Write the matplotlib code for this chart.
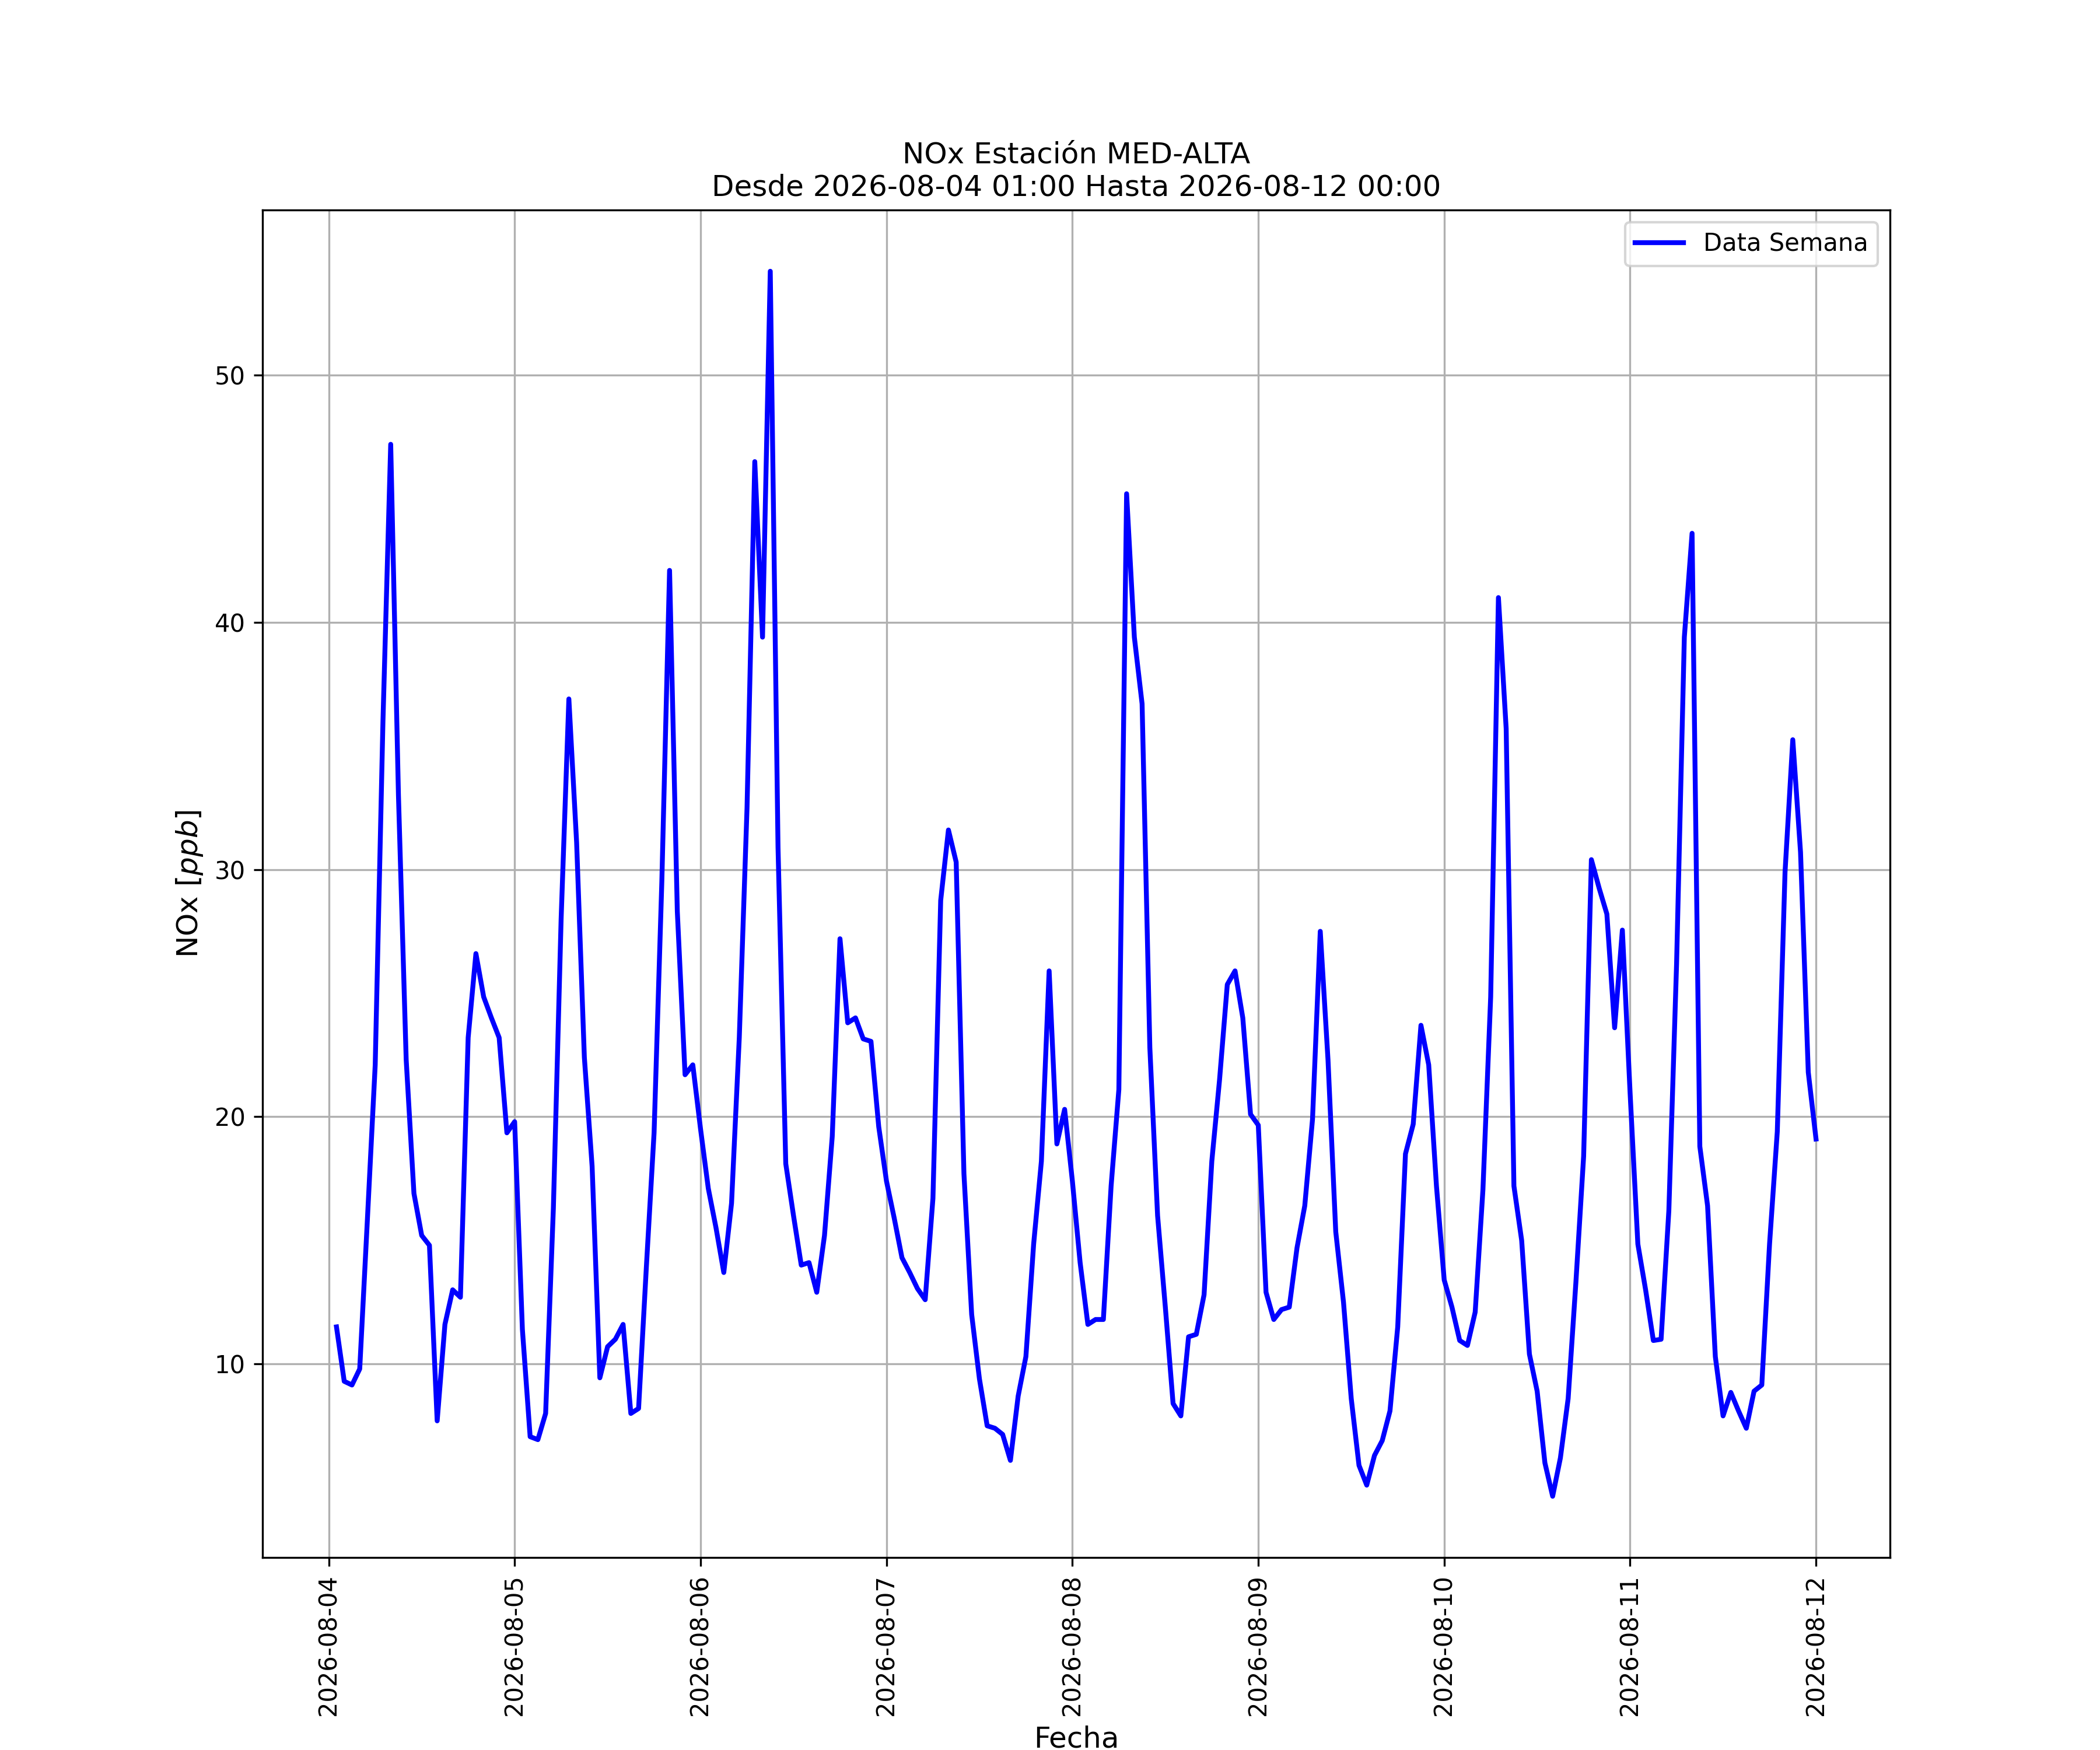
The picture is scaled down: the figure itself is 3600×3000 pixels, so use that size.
import matplotlib
matplotlib.use("Agg")
import matplotlib.pyplot as plt
import matplotlib.dates as mdates
import pandas as pd
import numpy as np

title = "NOx Estación MED-ALTA\nDesde 2026-08-04 01:00 Hasta 2026-08-12 00:00"
series_label = "Data Semana"
x_label = "Fecha"
y_label = "NOx [$ppb$]"

start_time = "2026-08-04 01:00"
n_hours = 192

day1 = [11.5, 9.3, 9.15, 9.8, 15.9, 22.1, 36.0, 47.2, 33.0, 22.3, 16.9, 15.2,
        14.8, 7.7, 11.6, 13.0, 12.7, 23.2, 26.6, 24.85, 24.0, 23.2, 19.35, 19.8]
day2 = [11.4, 7.06, 6.94, 8.0, 16.3, 28.0, 36.9, 31.1, 22.4, 18.0, 9.44, 10.7,
        11.0, 11.6, 8.0, 8.2, 13.9, 19.35, 29.5, 42.1, 28.3, 21.7, 22.1, 19.5]
day3 = [17.1, 15.5, 13.7, 16.5, 23.2, 32.5, 46.5, 39.4, 54.2, 30.9, 18.1, 16.0,
        14.0, 14.1, 12.9, 15.2, 19.2, 27.2, 23.8, 24.0, 23.15, 23.05, 19.6, 17.4]
day4 = [15.9, 14.3, 13.7, 13.05, 12.6, 16.7, 28.75, 31.6, 30.3, 17.7, 12.0, 9.4,
        7.5, 7.4, 7.15, 6.1, 8.7, 10.3, 14.85, 18.2, 25.9, 18.9, 20.3, 17.4]
day5 = [14.1, 11.6, 11.8, 11.8, 17.2, 21.1, 45.2, 39.4, 36.7, 22.8, 16.0, 12.3,
        8.4, 7.9, 11.1, 11.2, 12.8, 18.2, 21.5, 25.35, 25.9, 24.0, 20.1, 19.66]
day6 = [12.9, 11.8, 12.2, 12.3, 14.7, 16.4, 19.9, 27.5, 22.3, 15.35, 12.5, 8.6,
        5.9, 5.1, 6.3, 6.9, 8.1, 11.5, 18.5, 19.7, 23.7, 22.1, 17.2, 13.4]
day7 = [12.3, 10.95, 10.75, 12.1, 17.05, 24.85, 41.0, 35.7, 17.2, 15.0, 10.4, 8.9,
        6.0, 4.65, 6.2, 8.6, 13.3, 18.4, 30.4, 29.25, 28.2, 23.6, 27.55, 20.95]
day8 = [14.85, 13.0, 10.95, 11.0, 16.2, 26.2, 39.4, 43.6, 18.8, 16.4, 10.3, 7.9,
        8.85, 8.1, 7.4, 8.9, 9.15, 14.85, 19.4, 29.9, 35.25, 30.7, 21.8, 19.1]

values = day1 + day2 + day3 + day4 + day5 + day6 + day7 + day8
times = pd.date_range(start=start_time, periods=n_hours, freq="h")

fig, ax = plt.subplots(figsize=(12, 10), dpi=300)
ax.plot(times, values, color="blue", linewidth=2, label=series_label)
ax.set_title(title, fontsize=12)
ax.set_xlabel(x_label, fontsize=12)
ax.set_ylabel(y_label, fontsize=12)
ax.xaxis.set_major_locator(mdates.DayLocator())
ax.xaxis.set_major_formatter(mdates.DateFormatter("%Y-%m-%d"))
plt.setp(ax.get_xticklabels(), rotation=90)
ax.grid(True)
ax.legend(loc="upper right")
fig.savefig("out.png", dpi=300)
